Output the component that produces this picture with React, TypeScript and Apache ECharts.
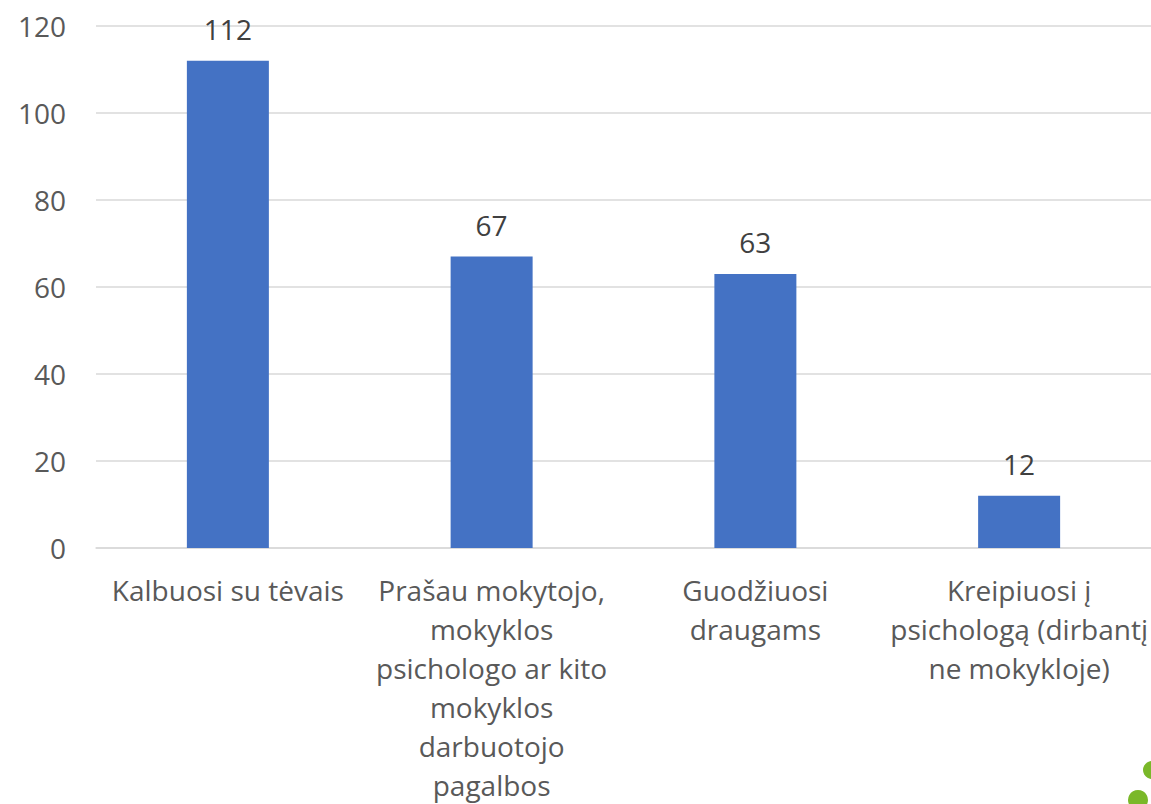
import React, { useEffect, useRef } from "react";
import * as echarts from "echarts";

const categories = [
  "Kalbuosi su tėvais",
  "Prašau mokytojo,\nmokyklos\npsichologo ar kito\nmokyklos\ndarbuotojo\npagalbos",
  "Guodžiuosi\ndraugams",
  "Kreipiuosi į\npsichologą (dirbantį\nne mokykloje)",
];
const values = [112, 67, 63, 12];
const yTicks = { min: 0, max: 120, interval: 20 };

export default function App() {
  const ref = useRef<HTMLDivElement>(null);
  useEffect(() => {
    document.body.style.margin = "0";
    const chart = echarts.init(ref.current!, undefined, { renderer: "svg" });
    const font = "'Open Sans', sans-serif";
    chart.setOption({
      animation: false,
      grid: { left: 96, right: -1, top: 26, bottom: 252, containLabel: false },
      xAxis: {
        type: "category",
        data: categories,
        axisLine: { lineStyle: { color: "#d9d9d9", width: 1.5 } },
        axisTick: { show: false },
        axisLabel: {
          color: "#595959",
          fontSize: 28,
          fontFamily: font,
          lineHeight: 39,
          margin: 22,
          interval: 0,
        },
      },
      yAxis: {
        type: "value",
        min: yTicks.min,
        max: yTicks.max,
        interval: yTicks.interval,
        axisLine: { show: false },
        axisTick: { show: false },
        splitLine: { lineStyle: { color: "#d9d9d9", width: 1.5 } },
        axisLabel: { color: "#595959", fontSize: 28, fontFamily: font, margin: 30 },
      },
      series: [
        {
          type: "bar",
          data: values,
          barWidth: 82,
          itemStyle: { color: "#4472c4" },
          label: {
            show: true,
            position: "top",
            distance: 18,
            color: "#404040",
            fontSize: 28,
            fontFamily: font,
          },
        },
      ],
      graphic: [
        { type: "circle", shape: { cx: 1138, cy: 800, r: 10 }, style: { fill: "#7ab829" } },
        { type: "circle", shape: { cx: 1152, cy: 770, r: 9 }, style: { fill: "#7ab829" } },
      ],
    });
    return () => chart.dispose();
  }, []);
  return <div ref={ref} style={{ width: 1151, height: 804 }} />;
}
